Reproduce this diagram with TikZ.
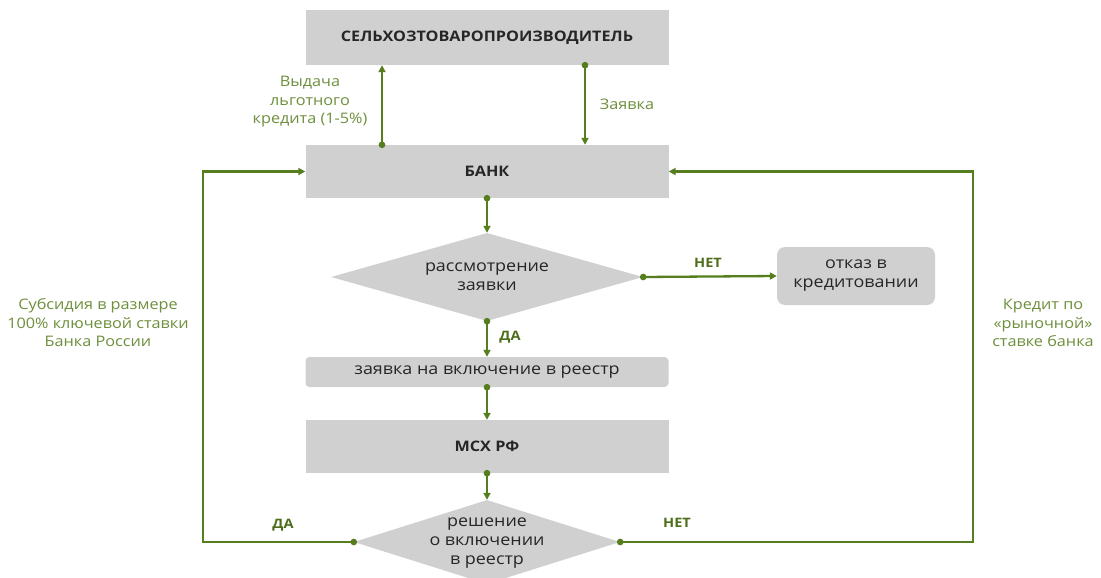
\documentclass[tikz,border=0pt]{standalone}
\usepackage{fontspec}
\setmainfont[FakeStretch=1.12]{Open Sans}
\usetikzlibrary{arrows.meta,shapes.geometric,calc}
\definecolor{boxgray}{HTML}{D0D0D0}
\definecolor{lineg}{HTML}{567D1E}
\definecolor{labg}{HTML}{6E8F3C}
\definecolor{yesno}{HTML}{4E6E1C}
\begin{document}
\begin{tikzpicture}[x=1pt,y=-1pt,
  box/.style={fill=boxgray, draw=none, minimum width=363pt, inner sep=0pt,
    font=\fontsize{16}{19}\selectfont, text=black!85, align=center},
  boldbox/.style={box, font=\fontsize{14.5}{18}\selectfont\bfseries},
  decision/.style={diamond, fill=boxgray, draw=none, inner sep=0pt, aspect=3.5,
    font=\fontsize{16}{19}\selectfont, text=black!85, align=center},
  conn/.style={draw=lineg, line width=2.3pt,
    {Circle[length=6.5pt]}-{Triangle[length=7pt,width=7pt]}, shorten <=-3.25pt},
  side/.style={text=labg, font=\fontsize{14.5}{18.5}\selectfont, align=center, inner sep=0pt},
  yn/.style={text=yesno, font=\fontsize{13}{15}\selectfont\bfseries, inner sep=0pt}
]
\useasboundingbox (0,0) rectangle (1101,578);
\fill[white] (0,0) rectangle (1101,578);

% nodes
\node[boldbox, minimum height=55pt] (farmer) at (487,37.5) {СЕЛЬХОЗТОВАРОПРОИЗВОДИТЕЛЬ};
\node[boldbox, minimum height=53pt] (bank) at (487,171.5) {БАНК};
\node[decision, minimum width=312pt, minimum height=88pt] (rev) at (487,277) {рассмотрение\\заявки};
\node[box, minimum width=158pt, minimum height=58pt, rounded corners=8pt] (reject) at (856,276) {отказ в\\кредитовании};
\node[box, minimum height=30pt, rounded corners=4pt] (reg) at (487,372) {заявка на включение в реестр};
\node[boldbox, minimum height=53pt] (msx) at (487,446.5) {МСХ РФ};
\node[decision, minimum width=266pt, minimum height=84pt] (dec) at (487,542) {};
\node[font=\fontsize{16}{19}\selectfont, text=black!85, align=center, inner sep=0pt] (dectext) at (487,543.5) {решение\\о включении\\в реестр};

% helper coordinates
\coordinate (upx) at (382,0);
\coordinate (dnx) at (585,0);
\coordinate (lx) at (203,0);
\coordinate (rx) at (973,0);

% connectors
\draw[conn] (bank.north -| upx) -- (farmer.south -| upx);
\draw[conn] (farmer.south -| dnx) -- (bank.north -| dnx);
\draw[conn] (bank.south) -- (rev.north);
\draw[conn] (rev.east) -- (reject.west);
\draw[conn] (rev.south) -- (reg.north);
\draw[conn] (reg.south) -- (msx.north);
\draw[conn] (msx.south) -- (dec.north);
\draw[conn] (dec.west) -- (dec.west -| lx) |- (bank.west);
\draw[conn] (dec.east) -- (dec.east -| rx) |- (bank.east);

% labels
\node[side] (lgive) at (310,102) {Выдача\\льготного\\кредита (1-5\%)};
\node[side] (lreq) at (627,104) {Заявка};
\node[side] (lsub) at (98,323) {Субсидия в размере\\100\% ключевой ставки\\Банка России};
\node[side] (lmkt) at (1043,323) {Кредит по\\«рыночной»\\ставке банка};
\node[yn] (no1) at (708,263) {НЕТ};
\node[yn] (yes1) at (510,337) {ДА};
\node[yn] (yes2) at (283,525) {ДА};
\node[yn] (no2) at (677,523) {НЕТ};
\end{tikzpicture}
\end{document}
